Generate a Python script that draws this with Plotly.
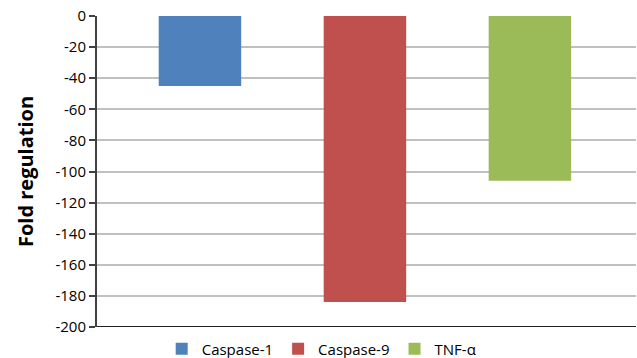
import plotly.graph_objects as go

# Gene expression fold regulation
genes = ["Caspase-1", "Caspase-9", "TNF-α"]
fold_regulation = [-45, -184, -106]
colors = ["#4F81BD", "#C0504D", "#9BBB59"]
y_ticks = [0, -20, -40, -60, -80, -100, -120, -140, -160, -180, -200]

fig = go.Figure()
for i, (name, val, col) in enumerate(zip(genes, fold_regulation, colors)):
    fig.add_trace(go.Bar(
        x=[i], y=[val], name=name, width=0.5,
        marker=dict(color=col, line=dict(width=0)),
    ))

fig.update_layout(
    width=637, height=358,
    margin=dict(l=97, r=1, t=16, b=31, autoexpand=False),
    paper_bgcolor="white", plot_bgcolor="white",
    barmode="overlay",
    font=dict(family="Open Sans, Liberation Sans, sans-serif", size=15, color="#000000"),
    showlegend=True,
    legend=dict(
        orientation="h", xref="container", yref="container",
        x=0.505, xanchor="center", y=0.025, yanchor="middle",
        font=dict(size=15), itemwidth=30, tracegroupgap=0,
        bgcolor="rgba(0,0,0,0)",
    ),
    xaxis=dict(
        range=[-0.624, 2.643], showticklabels=False, showgrid=False,
        zeroline=False, showline=False, ticks="",
    ),
    yaxis=dict(
        range=[-200, 0], tickvals=y_ticks, ticktext=[str(v) for v in y_ticks],
        showgrid=True, gridcolor="#C0C0C0", gridwidth=1.5,
        zeroline=False, showline=True, linecolor="#404040", linewidth=2,
        ticks="outside", ticklen=6, tickwidth=1.5, tickcolor="#404040",
        title=dict(text="<b>Fold regulation</b>", font=dict(size=20), standoff=16),
    ),
)

# bottom axis line across the plot area
fig.add_shape(type="line", xref="paper", yref="y", x0=0, x1=1, y0=-200, y1=-200,
              line=dict(color="#202020", width=2))

fig.write_html("out.html")
